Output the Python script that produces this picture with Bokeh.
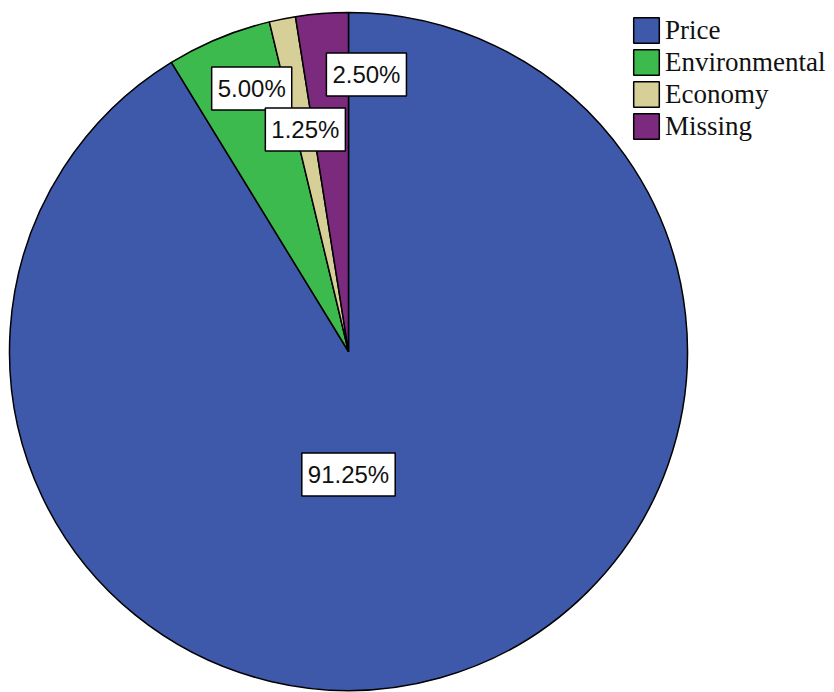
import numpy as np
from bokeh.plotting import figure
from bokeh.models import ColumnDataSource, Range1d, Legend, LegendItem
from bokeh.core.properties import value
from bokeh.embed import file_html
from bokeh.resources import INLINE

# ---- data ----
categories = ["Price", "Environmental", "Economy", "Missing"]
counts = [73, 4, 1, 2]
colors = ["#3E58AA", "#3CBA4E", "#D6CF98", "#7B2A7E"]

# ---- layout constants ----
W, H = 834, 692
CX, CY = 348, H - 351      # pie centre (data units = pixels)
R = 339
# label anchors: (angle clockwise from 12 o'clock in degrees, radius fraction)
label_anchor = [(180.0, 0.363), (339.8, 0.827), (349.0, 0.667), (3.7, 0.819)]

counts_arr = np.array(counts, dtype=float)
frac = counts_arr / counts_arr.sum()
pct = [f"{100*f:.2f}%" for f in frac]
cum = np.concatenate([[0.0], np.cumsum(frac)])
start = np.pi / 2 - cum[:-1] * 2 * np.pi
end = np.pi / 2 - cum[1:] * 2 * np.pi

src = ColumnDataSource(dict(cat=categories, start=start, end=end, color=colors,
                            x=[CX] * 4, y=[CY] * 4))

p = figure(width=W, height=H, output_backend="svg", toolbar_location=None,
           x_range=Range1d(0, W), y_range=Range1d(0, H), min_border=0)
p.axis.visible = False
p.grid.visible = False
p.outline_line_color = None
p.background_fill_color = "white"

r = p.wedge(x="x", y="y", radius=R, start_angle="start", end_angle="end",
            direction="clock", fill_color="color", line_color="black",
            line_width=1.5, source=src)

lx, ly = [], []
for a, rf in label_anchor:
    th = np.deg2rad(a)
    lx.append(CX + rf * R * np.sin(th))
    ly.append(CY + rf * R * np.cos(th))
lsrc = ColumnDataSource(dict(x=lx, y=ly, t=pct))
p.text(x="x", y="y", text="t", source=lsrc, text_align="center",
       text_baseline="middle", text_font=value("Liberation Sans"),
       text_font_size="24px", text_color="#111111",
       background_fill_color="white", border_line_color="black",
       border_line_width=1.5,
       padding=dict(left=6, right=6, top=8, bottom=8))

items = [LegendItem(label=c, renderers=[r], index=i) for i, c in enumerate(categories)]
legend = Legend(items=items, location=(630, 550), orientation="vertical",
                label_text_font="Liberation Serif", label_text_font_size="27px",
                label_text_color="#111111",
                glyph_width=32, glyph_height=32, label_standoff=3, spacing=0,
                padding=0, margin=0, border_line_alpha=0, background_fill_alpha=0)
p.add_layout(legend)

open("out.html", "w").write(file_html(p, INLINE))
